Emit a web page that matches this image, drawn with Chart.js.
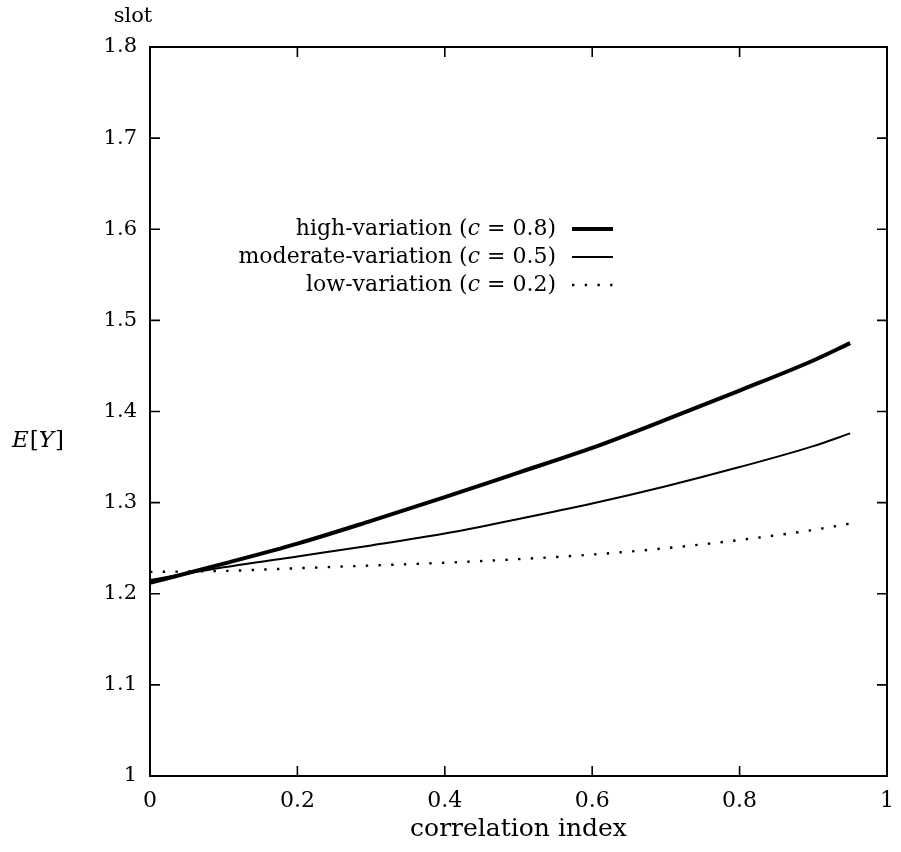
<!DOCTYPE html>
<html>
<head>
<meta charset="utf-8">
<script src="https://cdn.jsdelivr.net/npm/chart.js@4.4.1/dist/chart.umd.min.js"></script>
<style>
html,body{margin:0;padding:0;background:#fff;}
#wrap{width:901px;height:852px;position:relative;}
</style>
</head>
<body>
<div id="wrap"><canvas id="c" width="901" height="852"></canvas></div>
<script>
// ---- data ----
const correlation = [0, 0.1, 0.2, 0.3, 0.4, 0.5, 0.6, 0.7, 0.8, 0.9, 0.95];
const highVariation = [1.212, 1.233, 1.255, 1.280, 1.306, 1.333, 1.360, 1.391, 1.423, 1.456, 1.475];
const moderateVariation = [1.215, 1.229, 1.241, 1.253, 1.266, 1.282, 1.299, 1.318, 1.339, 1.362, 1.376];
const lowVariation = [1.224, 1.225, 1.228, 1.231, 1.234, 1.238, 1.243, 1.250, 1.259, 1.270, 1.277];
const seriesLabels = ['high-variation', 'moderate-variation', 'low-variation'];
const seriesC = ['0.8', '0.5', '0.2'];
const xTicks = [0, 0.2, 0.4, 0.6, 0.8, 1];
const yTicks = [1, 1.1, 1.2, 1.3, 1.4, 1.5, 1.6, 1.7, 1.8];
const xTitle = 'correlation index';
const yUnit = 'slot';

const SERIF = '"DejaVu Serif", serif';
const toPts = (ys) => ys.map((y, i) => ({x: correlation[i], y}));

const styles = [
  {borderWidth: 4, borderDash: []},
  {borderWidth: 2, borderDash: []},
  {borderWidth: 2.4, borderDash: [2.4, 10.3]}
];

const frame = {
  id: 'frame',
  afterDraw(chart) {
    const {ctx, chartArea: a, scales: {x, y}} = chart;
    ctx.save();
    ctx.strokeStyle = '#000';
    ctx.lineWidth = 2;
    ctx.strokeRect(a.left, a.top, a.right - a.left, a.bottom - a.top);
    ctx.lineWidth = 1.6;
    const L = 10;
    ctx.beginPath();
    xTicks.forEach(v => {
      const px = x.getPixelForValue(v);
      if (v > 0 && v < 1) {
        ctx.moveTo(px, a.bottom); ctx.lineTo(px, a.bottom - L);
        ctx.moveTo(px, a.top); ctx.lineTo(px, a.top + L);
      }
    });
    yTicks.forEach(v => {
      const py = y.getPixelForValue(v);
      if (v > 1 && v < 1.8) {
        ctx.moveTo(a.left, py); ctx.lineTo(a.left + L, py);
        ctx.moveTo(a.right, py); ctx.lineTo(a.right - L, py);
      }
    });
    ctx.stroke();

    // axis texts
    ctx.fillStyle = '#000';
    ctx.font = '25px ' + SERIF;
    ctx.textBaseline = 'middle';
    ctx.textAlign = 'center';
    ctx.fillText(xTitle, (a.left + a.right) / 2, 829);
    ctx.font = '21px ' + SERIF;
    ctx.fillText(yUnit, 133, 17);
    // E[Y]
    ctx.textAlign = 'left';
    let xx = 12;
    const parts = [['E', true], ['[', false], ['Y', true], [']', false]];
    parts.forEach(([t, it]) => {
      ctx.font = (it ? 'italic ' : '') + '23px ' + SERIF;
      ctx.fillText(t, xx, 441);
      xx += ctx.measureText(t).width + (it ? 1 : 0);
    });

    // legend
    const rows = [229, 257, 285];
    const textRight = 556;
    rows.forEach((ry, i) => {
      const segs = [[seriesLabels[i] + ' (', false], ['c', true], [' = ' + seriesC[i] + ')', false]];
      let w = 0;
      segs.forEach(([t, it]) => { ctx.font = (it ? 'italic ' : '') + '22px ' + SERIF; w += ctx.measureText(t).width; });
      let sx = textRight - w;
      segs.forEach(([t, it]) => {
        ctx.font = (it ? 'italic ' : '') + '22px ' + SERIF;
        ctx.fillText(t, sx, ry);
        sx += ctx.measureText(t).width;
      });
      ctx.beginPath();
      ctx.lineWidth = styles[i].borderWidth;
      ctx.setLineDash(styles[i].borderDash);
      ctx.moveTo(572, ry); ctx.lineTo(613, ry);
      ctx.stroke();
      ctx.setLineDash([]);
    });
    ctx.restore();
  }
};

new Chart(document.getElementById('c'), {
  type: 'line',
  data: {
    datasets: [highVariation, moderateVariation, lowVariation].map((d, i) => ({
      label: seriesLabels[i],
      data: toPts(d),
      borderColor: '#000',
      borderWidth: styles[i].borderWidth,
      borderDash: styles[i].borderDash,
      borderCapStyle: 'butt',
      pointRadius: 0,
      tension: 0.4,
      cubicInterpolationMode: 'monotone',
      fill: false
    }))
  },
  options: {
    responsive: false,
    animation: false,
    events: [],
    layout: {padding: {left: 0, top: 47, right: 14, bottom: 0}},
    plugins: {legend: {display: false}, tooltip: {enabled: false}, title: {display: false}},
    scales: {
      x: {
        type: 'linear', min: 0, max: 1,
        afterFit: s => { s.height = 76; s.paddingLeft = 0; s.paddingRight = 0; },
        afterBuildTicks: s => { s.ticks = xTicks.map(v => ({value: v})); },
        grid: {display: false, drawTicks: false},
        border: {display: false},
        ticks: {
          padding: 12, color: '#000', maxRotation: 0,
          font: {family: SERIF, size: 22},
          callback: v => (v === 0 || v === 1) ? String(v) : v.toFixed(1)
        }
      },
      y: {
        type: 'linear', min: 1, max: 1.8,
        afterFit: s => { s.width = 150; s.paddingTop = 0; s.paddingBottom = 0; },
        afterBuildTicks: s => { s.ticks = yTicks.map(v => ({value: v})); },
        grid: {display: false, drawTicks: false},
        border: {display: false},
        ticks: {
          padding: 13, color: '#000',
          font: {family: SERIF, size: 21},
          callback: v => (Math.abs(v - 1) < 1e-9) ? '1' : v.toFixed(1)
        }
      }
    }
  },
  plugins: [frame]
});
</script>
</body>
</html>
